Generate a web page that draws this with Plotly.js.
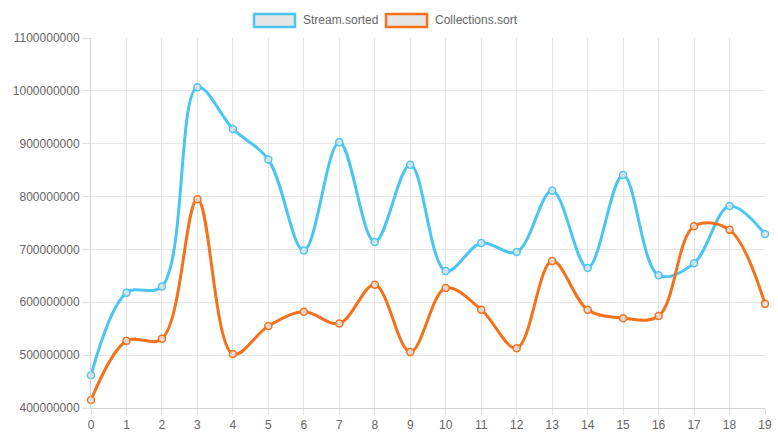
<!DOCTYPE html>
<html>
<head>
<meta charset="utf-8">
<script src="https://cdn.plot.ly/plotly-3.0.1.min.js"></script>
<style>
  html, body { margin: 0; padding: 0; background: #fff; }
  #chart { width: 778px; height: 437px; }
</style>
</head>
<body>
<div id="chart"></div>
<script>
// run index 0..19
const runs = [0,1,2,3,4,5,6,7,8,9,10,11,12,13,14,15,16,17,18,19];
const streamSorted = [462e6,618e6,630e6,1007e6,928e6,870e6,698e6,903e6,714e6,860e6,
                      659e6,712e6,695e6,811e6,665e6,841e6,651e6,674e6,782e6,729e6];
const collectionsSort = [415e6,527e6,531e6,795e6,502e6,555e6,582e6,560e6,633e6,506e6,
                         627e6,586e6,513e6,678e6,586e6,570e6,574e6,744e6,737e6,597e6];
const seriesNames = ['Stream.sorted', 'Collections.sort'];
const colors = ['#4cc6f1', '#f5711c'];

const W = 778, H = 437;
const M = {l: 91, r: 13, t: 38, b: 29};
const pw = W - M.l - M.r, ph = H - M.t - M.b;
// pixel -> paper helpers for the legend
const px = x => (x - M.l) / pw;
const py = y => (H - M.b - y) / ph;

function trace(name, ys, color) {
  return {
    type: 'scatter', mode: 'lines+markers', name: name,
    x: runs, y: ys, cliponaxis: false,
    line: {color: color, width: 3, shape: 'spline', smoothing: 1.0},
    marker: {size: 7, color: 'rgba(228,228,228,0.85)', line: {color: color, width: 1.5}},
    showlegend: false, hoverinfo: 'x+y'
  };
}

const shapes = [], annotations = [];
const legendItems = [
  {box: [254, 295], text: 301},
  {box: [386, 427], text: 433}
];
legendItems.forEach((it, i) => {
  shapes.push({type: 'rect', xref: 'paper', yref: 'paper',
    x0: px(it.box[0]), x1: px(it.box[1]), y0: py(27), y1: py(14),
    fillcolor: '#e6e6e6', line: {color: colors[i], width: 2.5}});
  annotations.push({xref: 'paper', yref: 'paper', x: px(it.text), y: py(20.5),
    xanchor: 'left', yanchor: 'middle', showarrow: false, text: seriesNames[i],
    font: {size: 12, color: '#666'}});
});

const layout = {
  width: W, height: H,
  margin: M,
  paper_bgcolor: '#fff', plot_bgcolor: '#fff',
  font: {family: '"Liberation Sans", Arial, sans-serif', size: 12, color: '#666'},
  showlegend: false,
  xaxis: {
    range: [0, 19], tickvals: runs, ticktext: runs.map(String),
    showgrid: true, gridcolor: '#e6e6e6', gridwidth: 1,
    zeroline: false, showline: true, linecolor: '#d4d4d4', linewidth: 1,
    ticks: 'outside', ticklen: 6, tickcolor: '#e0e0e0', tickfont: {size: 12, color: '#666'}
  },
  yaxis: {
    range: [400e6, 1100e6], dtick: 100e6, tickformat: 'd',
    showgrid: true, gridcolor: '#e6e6e6', gridwidth: 1,
    zeroline: false, showline: true, linecolor: '#d4d4d4', linewidth: 1,
    ticks: 'outside', ticklen: 8, tickcolor: '#e0e0e0', tickfont: {size: 12, color: '#666'}
  },
  shapes: shapes,
  annotations: annotations
};

Plotly.newPlot('chart', [
  trace(seriesNames[0], streamSorted, colors[0]),
  trace(seriesNames[1], collectionsSort, colors[1])
], layout, {displayModeBar: false, staticPlot: true});
</script>
</body>
</html>
